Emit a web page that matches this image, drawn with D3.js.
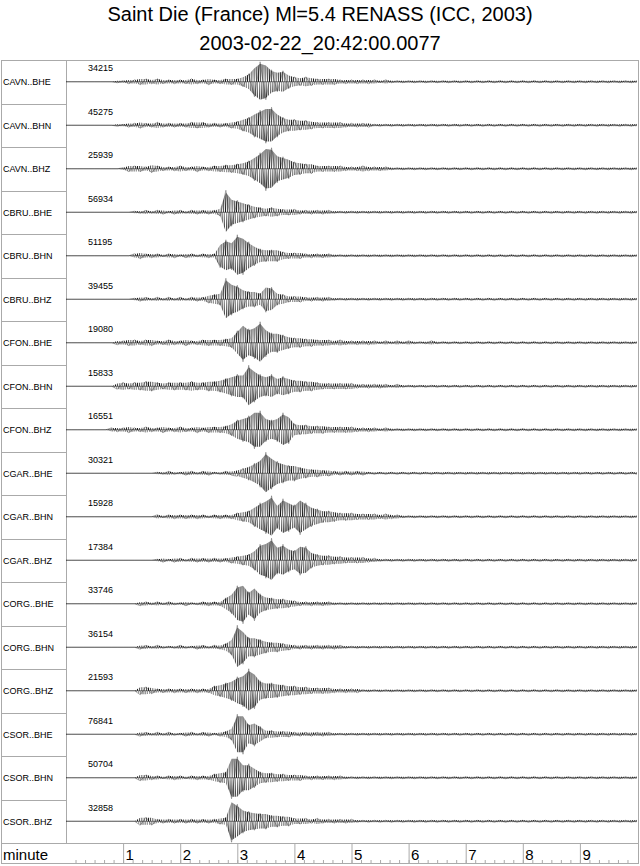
<!DOCTYPE html>
<html>
<head>
<meta charset="utf-8">
<script src="https://cdn.jsdelivr.net/npm/d3@7"></script>
<style>
    body { margin: 0; background: #fff; }
    svg { display: block; font-family: "Liberation Sans", Arial, sans-serif; }
</style>
</head>
<body>
<div id="draw_here"></div>
<script>
    // Data
    title_lines = ["Saint Die (France) Ml=5.4 RENASS (ICC, 2003)", "2003-02-22_20:42:00.0077"]
    stations = ["CAVN..BHE", "CAVN..BHN", "CAVN..BHZ", "CBRU..BHE", "CBRU..BHN", "CBRU..BHZ",
                "CFON..BHE", "CFON..BHN", "CFON..BHZ", "CGAR..BHE", "CGAR..BHN", "CGAR..BHZ",
                "CORG..BHE", "CORG..BHN", "CORG..BHZ", "CSOR..BHE", "CSOR..BHN", "CSOR..BHZ"]
    max_counts = [34215, 45275, 25939, 56934, 51195, 39455, 19080, 15833, 16551,
                  30321, 15928, 17384, 33746, 36154, 21593, 76841, 50704, 32858]
    minute_ticks = [1, 2, 3, 4, 5, 6, 7, 8, 9]
    sample_step = 0.1   // minutes between samples, first sample at 0

    // traces, one value per 0.1 minute (up is +)
    cavn_bhe = [0,0,0,0,0,0,0,0,0,-1, 1,-2,2,-3,3,-2,3,-2,2,-2, 2,-2,3,-2,2,-3,2,-2,3,-3,
                3,-5,8,-15,20,-18,12,-10,11,-7, 5,-4,5,-4,3,-3,3,-3,2,-2, 2,-2,2,-2,2,-1,2,-1,1,-1,
                1,-1,1,-1,1,-1,1,-1,1,-1, 1,-1,1,-1,1,-1,1,-1,1,-1, 1,-1,1,-1,1,-1,1,-1,1,-1, 1,-1,1,-1,1,-1,1,-1,1,-1, 1]
    cavn_bhn = [0,0,0,0,0,0,0,0,0,-1, 1,-2,2,-3,2,-2,3,-2,2,-2, 2,-2,3,-3,3,-2,2,-2,2,-3,
                4,-6,8,-12,15,-18,18,-12,8,-6, 6,-5,5,-4,3,-3,3,-3,3,-2, 2,-2,2,-2,1,-1,1,-1,1,-1,
                1,-1,1,-1,1,-1,1,-1,1,-1, 1,-1,1,-1,1,-1,1,-1,1,-1, 1,-1,1,-1,1,-1,1,-1,1,-1, 1,-1,1,-1,1,-1,1,-1,1,-1, 1]
    cavn_bhz = [0,0,0,0,0,0,0,0,0,0, 1,-3,3,-3,2,-4,3,-2,2,-2, 3,-2,2,-3,2,-2,3,-3,4,-4,
                5,-6,8,-12,16,-22,21,-14,12,-10, 7,-6,5,-5,3,-3,3,-3,3,-2, 2,-2,3,-2,2,-2,2,-1,1,-1,
                1,-1,1,-1,1,-1,1,-1,1,-1, 1,-1,1,-1,1,-1,1,-1,1,-1, 1,-1,1,-1,1,-1,1,-1,1,-1, 1,-1,1,-1,1,-1,1,-1,1,-1, 1]
    cbru_bhe = [0,0,0,0,0,0,0,0,0,0, 0,0,1,-1,2,-1,2,-2,1,-2, 2,-1,2,-2,2,-2,2,-4,22,-14,
                12,-10,8,-6,5,-4,5,-4,3,-3, 3,-2,2,-2,2,-2,2,-1,1,-1, 1,-1,1,-1,1,-1,1,-1,1,-1,
                1,-1,1,-1,1,-1,1,-1,1,-1, 1,-1,1,-1,1,-1,1,-1,1,-1, 1,-1,1,-1,1,-1,1,-1,1,-1, 1,-1,1,-1,1,-1,1,-1,1,-1, 1]
    cbru_bhn = [0,0,0,0,0,0,0,0,0,0, 0,0,2,-3,2,-2,2,-1,2,-2, 1,-2,2,-1,2,-2,2,-12,16,-14,
                21,-19,14,-10,7,-6,6,-6,4,-3, 3,-3,2,-2,2,-2,2,-1,1,-1, 1,-1,1,-1,1,-1,1,-1,1,-1,
                1,-1,1,-1,1,-1,1,-1,1,-1, 1,-1,1,-1,1,-1,1,-1,1,-1, 1,-1,1,-1,1,-1,1,-1,1,-1, 1,-1,1,-1,1,-1,1,-1,1,-1, 1]
    cbru_bhz = [0,0,0,0,0,0,0,0,0,0, 0,0,1,-2,2,-1,2,-1,2,-1, 2,-1,2,-2,2,-4,5,-6,21,-16,
                14,-10,8,-8,6,-13,12,-6,5,-3, 3,-3,2,-2,2,-2,2,-1,1,-1, 1,-1,1,-1,1,-1,1,-1,1,-1,
                1,-1,1,-1,1,-1,1,-1,1,-1, 1,-1,1,-1,1,-1,1,-1,1,-1, 1,-1,1,-1,1,-1,1,-1,1,-1, 1,-1,1,-1,1,-1,1,-1,1,-1, 1]
    cfon_bhe = [0,0,0,0,0,0,0,0,0,-2, 2,-3,3,-2,3,-3,2,-2,3,-2, 2,-3,2,-2,3,-3,3,-3,4,-5,
                12,-19,14,-16,21,-14,10,-10,8,-6, 5,-5,4,-4,3,-3,3,-2,3,-2, 2,-2,2,-2,2,-1,2,-1,2,-1,
                2,-1,1,-1,2,-1,1,-1,1,-1, 1,-1,1,-1,1,-1,1,-1,1,-1, 1,-1,1,-1,1,-1,1,-1,1,-1, 1,-1,1,-1,1,-1,1,-1,1,-1, 1]
    cfon_bhn = [0,0,0,0,0,0,0,0,0,-3, 4,-3,4,-4,5,-5,4,-3,4,-4, 4,-4,5,-4,4,-5,5,-6,8,-10,
                12,-12,21,-16,12,-10,12,-8,10,-8, 6,-6,5,-5,4,-3,3,-3,3,-3, 3,-2,2,-2,2,-2,2,-1,2,-1,
                1,-1,1,-1,1,-1,1,-1,1,-1, 1,-1,1,-1,1,-1,1,-1,1,-1, 1,-1,1,-1,1,-1,1,-1,1,-1, 1,-1,1,-1,1,-1,1,-1,1,-1, 1]
    cfon_bhz = [0,0,0,0,0,0,0,0,2,-2, 2,-3,2,-2,3,-2,2,-3,2,-2, 3,-2,2,-3,2,-3,3,-3,4,-6,
                10,-12,14,-19,19,-12,10,-12,17,-14, 6,-5,5,-4,4,-4,3,-3,3,-3, 3,-2,2,-2,2,-1,2,-1,1,-1,
                1,-1,1,-1,1,-1,1,-1,1,-1, 1,-1,1,-1,1,-1,1,-1,1,-1, 1,-1,1,-1,1,-1,1,-1,1,-1, 1,-1,1,-1,1,-1,1,-1,1,-1, 1]
    cgar_bhe = [0,0,0,0,0,0,0,0,0,0, 0,0,0,0,0,0,1,-1,2,-1, 1,-2,2,-1,2,-2,1,-1,2,-2,
                -3,5,-7,10,-14,21,-16,12,-10,8, -8,6,-5,4,-4,3,-3,2,-2,2, -2,2,-2,1,-1,1,-1,1,-1,1,
                -1,1,-1,1,-1,1,-1,1,-1,1, -1,1,-1,1,-1,1,-1,1,-1,1, -1,1,-1,1,-1,1,-1,1,-1,1, -1,1,-1,1,-1,1,-1,1,-1,1, -1]
    cgar_bhn = [0,0,0,0,0,0,0,0,0,0, 0,0,0,0,0,0,2,-1,2,-2, 2,-2,2,-2,2,-1,2,-2,2,-2,
                4,-5,6,-10,14,-17,21,-12,18,-15, 12,-18,14,-10,8,-6,6,-5,4,-4, 4,-3,3,-3,3,-2,3,-2,2,-1,
                1,-1,1,-1,1,-1,1,-1,1,-1, 1,-1,1,-1,1,-1,1,-1,1,-1, 1,-1,1,-1,1,-1,1,-1,1,-1, 1,-1,1,-1,1,-1,1,-1,1,-1, 1]
    cgar_bhz = [0,0,0,0,0,0,0,0,0,0, 0,0,0,0,0,0,1,-2,1,-2, 2,-1,2,-2,2,-2,2,-2,2,-3,
                4,-5,6,-10,16,-18,22,-14,16,-12, 10,-15,14,-8,6,-5,5,-4,4,-3, 3,-3,3,-2,2,-1,1,-1,1,-1,
                1,-1,1,-1,1,-1,1,-1,1,-1, 1,-1,1,-1,1,-1,1,-1,1,-1, 1,-1,1,-1,1,-1,1,-1,1,-1, 1,-1,1,-1,1,-1,1,-1,1,-1, 1]
    corg_bhe = [0,0,0,0,0,0,0,0,0,0, 0,0,0,-2,2,-1,2,-1,2,-1, 1,-2,1,-1,2,-2,2,-2,6,-10,
                18,-20,12,-17,10,-7,6,-5,5,-4, 3,-2,2,-2,2,-2,2,-1,1,-1, 1,-1,1,-1,1,-1,1,-1,1,-1,
                1,-1,1,-1,1,-1,1,-1,1,-1, 1,-1,1,-1,1,-1,1,-1,1,-1, 1,-1,1,-1,1,-1,1,-1,1,-1, 1,-1,1,-1,1,-1,1,-1,1,-1, 1]
    corg_bhn = [0,0,0,0,0,0,0,0,0,0, 0,0,0,-2,2,-1,2,-1,1,-1, 2,-1,1,-2,2,-1,2,-2,4,-8,
                22,-17,10,-10,8,-6,5,-5,4,-3, 2,-2,2,-2,2,-2,2,-2,2,-1, 1,-1,1,-1,1,-1,1,-1,1,-1,
                1,-1,1,-1,1,-1,1,-1,1,-1, 1,-1,1,-1,1,-1,1,-1,1,-1, 1,-1,1,-1,1,-1,1,-1,1,-1, 1,-1,1,-1,1,-1,1,-1,1,-1, 1]
    corg_bhz = [0,0,0,0,0,0,0,0,0,0, 0,0,0,-4,4,-3,2,-2,2,-2, 2,-2,2,-2,2,-2,5,-6,8,-10,
                14,-16,22,-18,10,-8,8,-7,6,-5, 5,-4,4,-3,3,-3,3,-2,2,-2, 2,-2,1,-1,1,-1,1,-1,1,-1,
                1,-1,1,-1,1,-1,1,-1,1,-1, 1,-1,1,-1,1,-1,1,-1,1,-1, 1,-1,1,-1,1,-1,1,-1,1,-1, 1,-1,1,-1,1,-1,1,-1,1,-1, 1]
    csor_bhe = [0,0,0,0,0,0,0,0,0,0, 0,0,0,-2,2,-1,2,-1,2,-1, 1,-2,2,-1,2,-2,1,-2,3,-6,
                20,-20,10,-12,8,-4,4,-3,3,-3, 2,-2,2,-2,2,-2,2,-1,1,-1, 1,-1,1,-1,1,-1,1,-1,1,-1,
                1,-1,1,-1,1,-1,1,-1,1,-1, 1,-1,1,-1,1,-1,1,-1,1,-1, 1,-1,1,-1,1,-1,1,-1,1,-1, 1,-1,1,-1,1,-1,1,-1,1,-1, 1]
    csor_bhn = [0,0,0,0,0,0,0,0,0,0, 0,0,0,-3,3,-2,2,-1,2,-2, 2,-1,2,-2,2,-2,4,-5,6,-21,
                21,-14,14,-10,6,-5,5,-4,4,-3, 3,-3,2,-2,2,-2,2,-2,2,-1, 1,-1,1,-1,1,-1,1,-1,1,-1,
                1,-1,1,-1,1,-1,1,-1,1,-1, 1,-1,1,-1,1,-1,1,-1,1,-1, 1,-1,1,-1,1,-1,1,-1,1,-1, 1,-1,1,-1,1,-1,1,-1,1,-1, 1]
    csor_bhz = [0,0,0,0,0,0,0,0,0,0, 0,0,0,-4,4,-4,2,-2,2,-2, 2,-2,2,-2,2,-2,2,-3,4,-21,
                17,-12,10,-9,8,-8,6,-6,5,-5, 3,-3,3,-2,3,-2,2,-2,2,-2, 2,-1,1,-1,1,-1,1,-1,1,-1,
                1,-1,1,-1,1,-1,1,-1,1,-1, 1,-1,1,-1,1,-1,1,-1,1,-1, 1,-1,1,-1,1,-1,1,-1,1,-1, 1,-1,1,-1,1,-1,1,-1,1,-1, 1]

    traces = [cavn_bhe, cavn_bhn, cavn_bhz, cbru_bhe, cbru_bhn, cbru_bhz,
              cfon_bhe, cfon_bhn, cfon_bhz, cgar_bhe, cgar_bhn, cgar_bhz,
              corg_bhe, corg_bhn, corg_bhz, csor_bhe, csor_bhn, csor_bhz]

    // Setup Chart
    canvas = ({width: 640, height: 866})
    frame = ({left: 1, right: 638, top: 60, bottom: 843, axis: 863, labels: 66})
    grey = "#aaa"

    x = d3.scaleLinear()
        .domain([0, 10])
        .range([frame.labels, 637])

    row = d3.scaleBand()
        .domain(stations)
        .range([frame.top, frame.bottom])

    amp = d3.scaleLinear()
        .domain([-22, 22])
        .range([22, -22])

    var svg = d3.select("div#draw_here").append("svg")
        .attr("width", canvas.width)
        .attr("height", canvas.height)
        .attr("viewBox", [0, 0, canvas.width, canvas.height]);

    // dense wiggle texture used to fill each trace envelope
    svg.append("defs").append("pattern")
        .attr("id", "wiggle")
        .attr("patternUnits", "userSpaceOnUse")
        .attr("width", 2.2)
        .attr("height", 44)
        .append("path")
        .attr("d", "M0,0L1.1,44L2.2,0")
        .attr("fill", "none")
        .attr("stroke", "#000")
        .attr("stroke-width", 0.6)

    // Title
    svg.append("g")
        .selectAll("text")
        .data(title_lines)
        .join("text")
        .attr("x", canvas.width / 2)
        .attr("y", (d, i) => 21 + i * 29)
        .attr("text-anchor", "middle")
        .attr("font-size", 20)
        .text(d => d)

    // Frame
    svg.append("rect")
        .attr("x", frame.left + 0.5)
        .attr("y", frame.top + 0.5)
        .attr("width", frame.right - frame.left)
        .attr("height", frame.axis - frame.top)
        .attr("fill", "none")
        .attr("stroke", grey)

    svg.append("line")
        .attr("x1", frame.labels + 0.5).attr("x2", frame.labels + 0.5)
        .attr("y1", frame.top).attr("y2", frame.bottom)
        .attr("stroke", grey)

    svg.append("line")
        .attr("x1", frame.left).attr("x2", frame.right)
        .attr("y1", frame.bottom + 0.5).attr("y2", frame.bottom + 0.5)
        .attr("stroke", grey)

    // row separators in the label column
    svg.append("g")
        .selectAll("line")
        .data(stations.slice(1))
        .join("line")
        .attr("x1", frame.left).attr("x2", frame.labels)
        .attr("y1", d => Math.round(row(d)) + 0.5)
        .attr("y2", d => Math.round(row(d)) + 0.5)
        .attr("stroke", grey)

    // Traces
    line = d3.line()
        .x((d, i) => x(i * sample_step))
        .y(d => amp(d))

    envelope = d3.area()
        .x((d, i) => x(i * sample_step))
        .y0(d => amp(-Math.abs(d) * 0.9))
        .y1(d => amp(Math.abs(d) * 0.9))

    rows = svg.append("g")
        .selectAll("g")
        .data(stations)
        .join("g")
        .attr("transform", d => `translate(0,${row(d) + row.bandwidth() / 2})`)

    rows.append("text")
        .attr("x", 3)
        .attr("y", 3.5)
        .attr("font-size", 9)
        .text(d => d)

    rows.append("text")
        .attr("x", 88)
        .attr("y", -10.5)
        .attr("font-size", 9)
        .text((d, i) => max_counts[i])

    // thin baseline the trace sits on
    rows.append("line")
        .attr("x1", x(0)).attr("x2", x(10))
        .attr("stroke", "#000")
        .attr("stroke-width", 0.5)

    rows.append("path")
        .attr("fill", "url(#wiggle)")
        .attr("stroke", "none")
        .attr("d", (d, i) => envelope(traces[i]))

    rows.append("path")
        .attr("fill", "none")
        .attr("stroke", "#000")
        .attr("stroke-width", 0.5)
        .attr("stroke-opacity", 0.6)
        .attr("stroke-linejoin", "round")
        .attr("d", (d, i) => line(traces[i]))

    // Time axis
    minorAxis = g => g
        .attr("transform", `translate(0,${frame.axis})`)
        .call(d3.axisTop(x).tickValues(d3.range(1, 60).map(s => s / 6)).tickSize(3).tickFormat(""))
        .call(g => g.select(".domain").remove())
        .call(g => g.selectAll(".tick line").attr("stroke", grey))

    majorAxis = g => g
        .attr("transform", `translate(0,${frame.axis})`)
        .call(d3.axisTop(x).tickValues(minute_ticks).tickSize(frame.axis - frame.bottom).tickFormat(d3.format("d")))
        .call(g => g.select(".domain").remove())
        .call(g => g.selectAll(".tick line").attr("stroke", grey))
        .call(g => g.selectAll(".tick text")
            .attr("x", 2)
            .attr("y", -3)
            .attr("dy", null)
            .attr("text-anchor", "start")
            .attr("fill", "#000")
            .attr("font-family", "Liberation Sans, Arial, sans-serif")
            .attr("font-size", 15))

    svg.append("g").call(minorAxis)
    svg.append("g").call(majorAxis)

    svg.append("text")
        .attr("x", 3)
        .attr("y", frame.axis - 3)
        .attr("font-size", 15)
        .text("minute")
</script>
</body>
</html>
